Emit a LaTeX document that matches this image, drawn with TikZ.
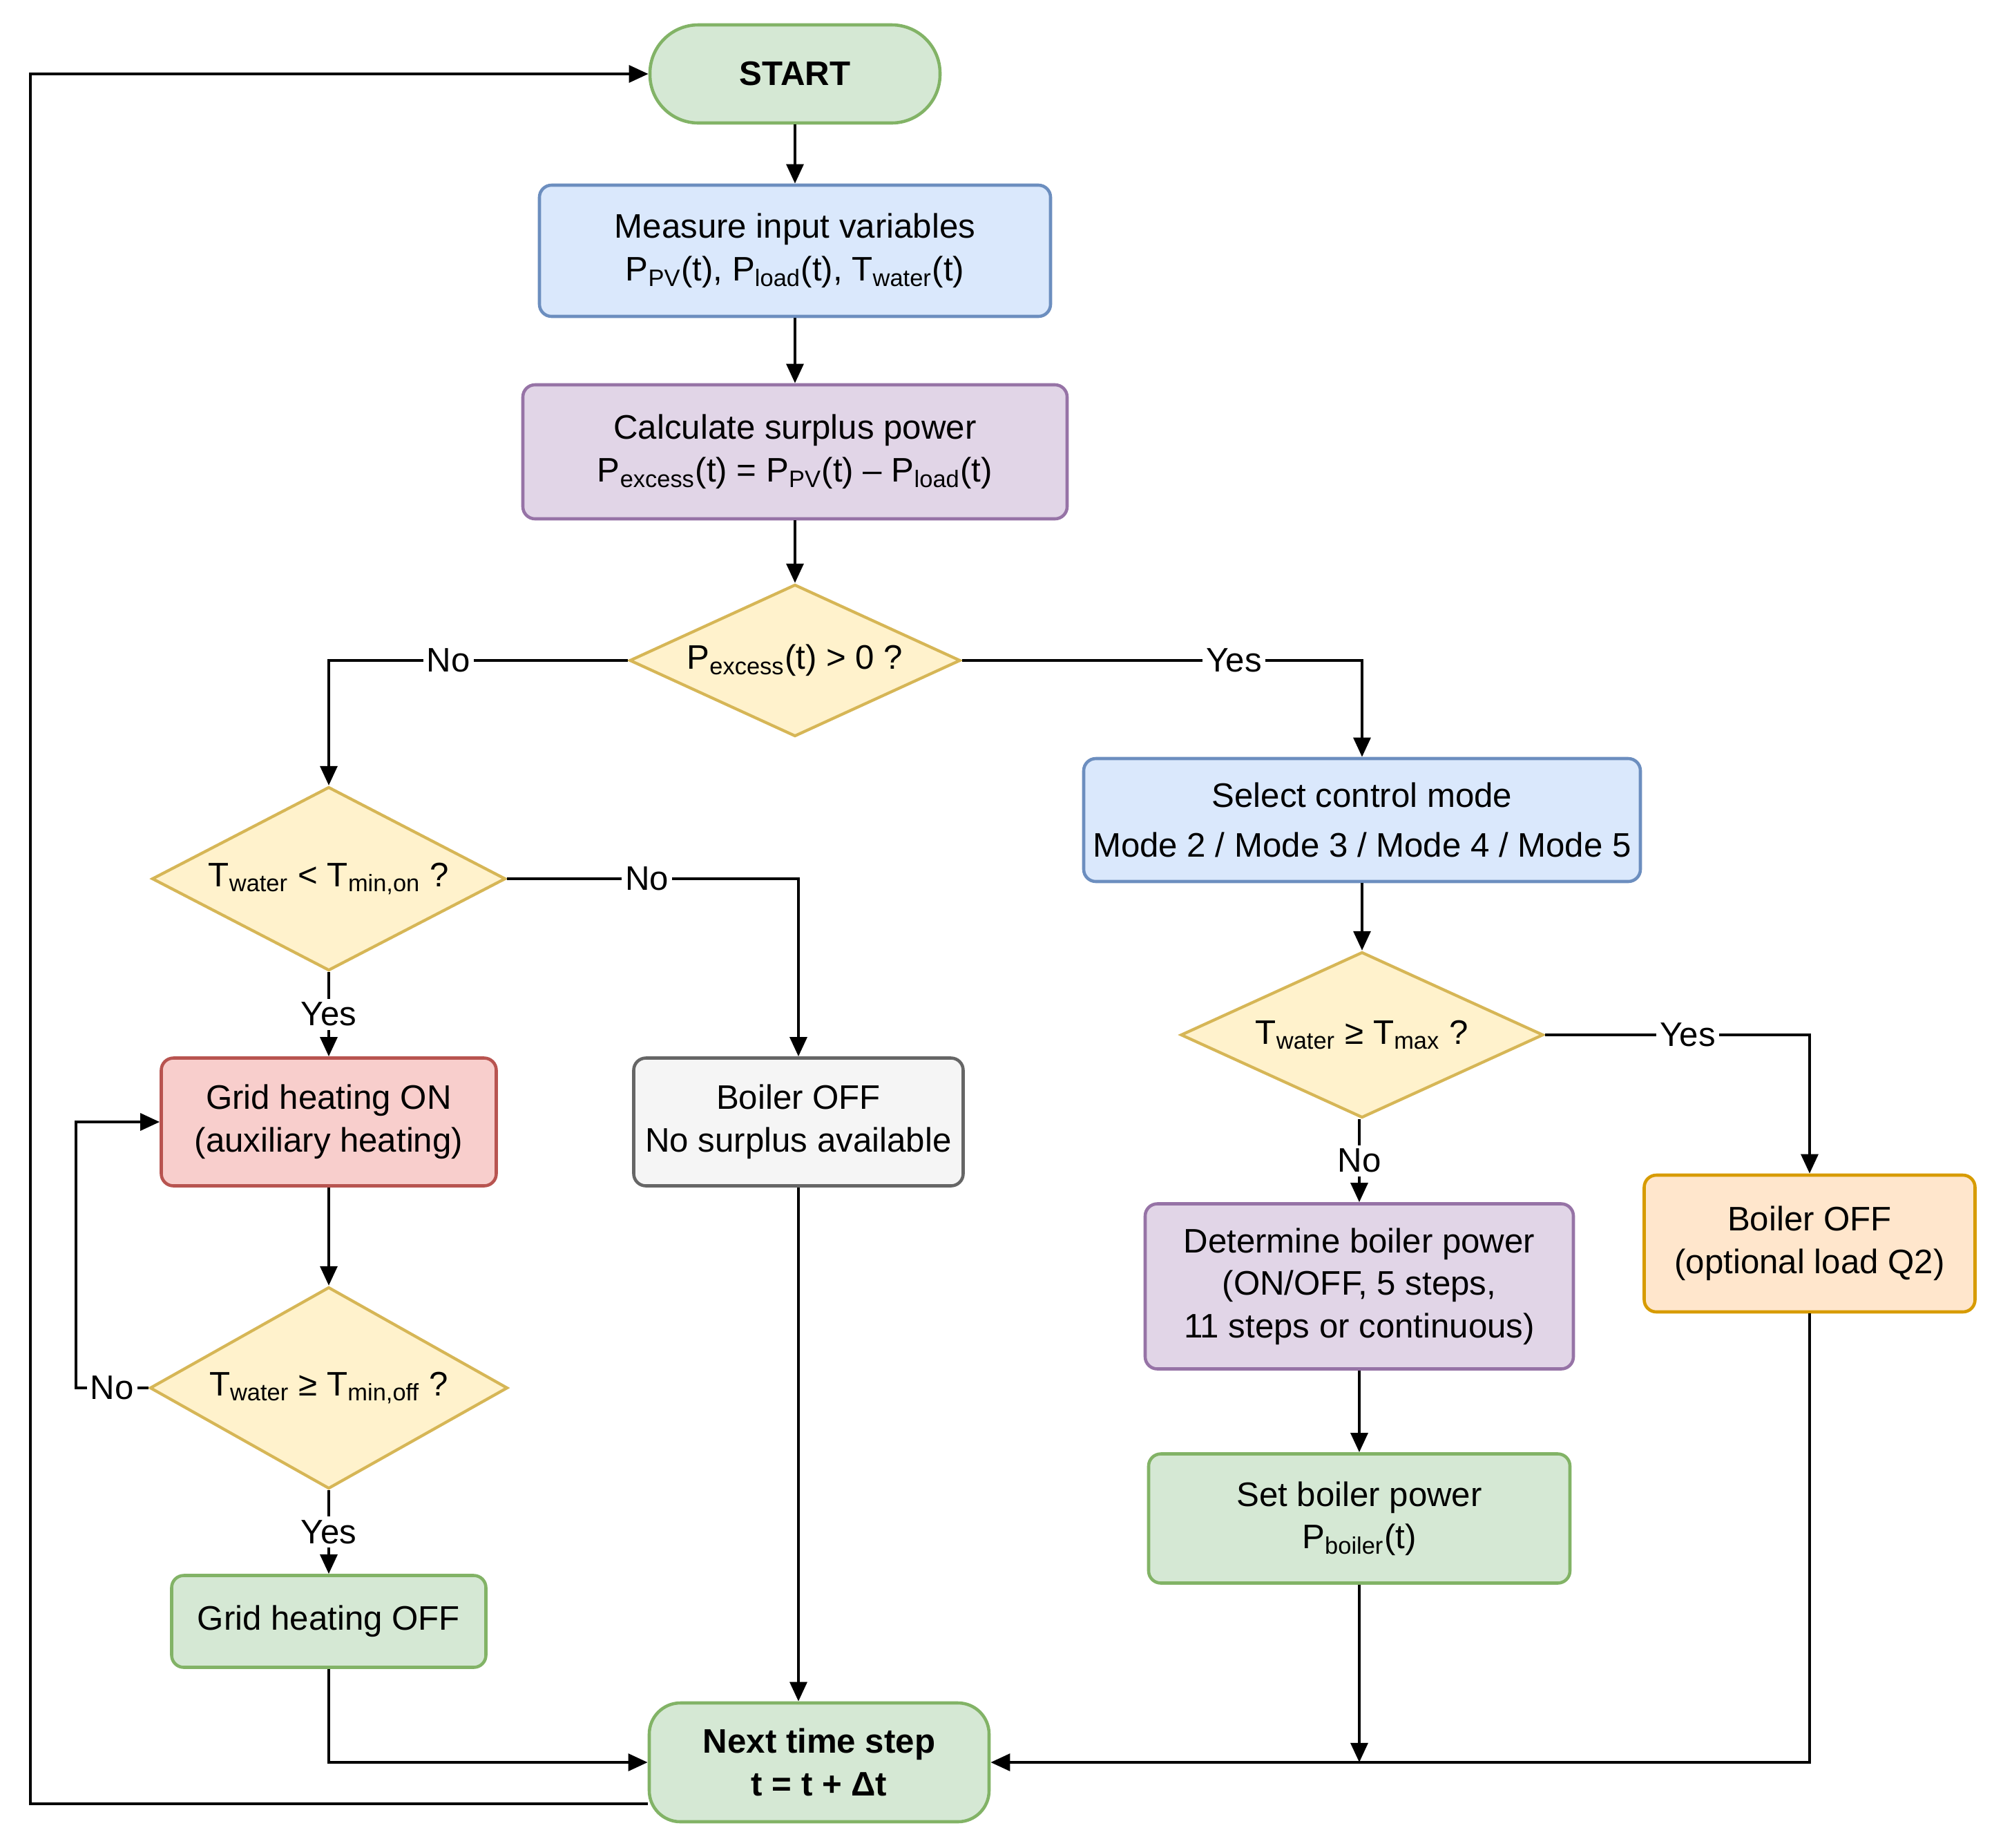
\documentclass[tikz,border=0pt]{standalone}
\usepackage{fontspec}
\setmainfont{Liberation Sans}
\usetikzlibrary{arrows.meta,positioning,shapes.geometric,calc}
\definecolor{grnfill}{HTML}{D5E8D4}\definecolor{grnline}{HTML}{82B366}
\definecolor{bluefill}{HTML}{DAE8FC}\definecolor{blueline}{HTML}{6C8EBF}
\definecolor{purpfill}{HTML}{E1D5E7}\definecolor{purpline}{HTML}{9673A6}
\definecolor{yelfill}{HTML}{FFF2CC}\definecolor{yelline}{HTML}{D6B656}
\definecolor{redfill}{HTML}{F8CECC}\definecolor{redline}{HTML}{B85450}
\definecolor{grayfill}{HTML}{F5F5F5}\definecolor{grayline}{HTML}{666666}
\definecolor{orfill}{HTML}{FFE6CC}\definecolor{orline}{HTML}{D79B00}
\tikzset{
  txt/.style={font=\fontsize{14pt}{17.5pt}\selectfont},
  box/.style={txt,rectangle,rounded corners=5pt,line width=1.3pt,align=center,inner sep=2pt},
  decision/.style={txt,diamond,aspect=2,inner sep=0pt,line width=1.2pt,align=center,draw=yelline,fill=yelfill},
  arr/.style={-{Triangle[length=8pt,width=7pt]},line width=1.3pt},
  lbl/.style={txt,fill=white,inner sep=1.5pt}
}
\begin{document}
\begin{tikzpicture}
    \useasboundingbox (0,0) rectangle (29,-26.75);
    \node[box,draw=grnline,fill=grnfill,rounded corners=0.7cm,minimum width=4.2cm,minimum height=1.42cm,font=\fontsize{14pt}{17.5pt}\selectfont\bfseries] (start) at (11.51,-1.07) {START};
    \node[box,draw=blueline,fill=bluefill,minimum width=7.4cm,minimum height=1.9cm] (meas) at (11.51,-3.63) {Measure input variables\\P\textsubscript{PV}(t), P\textsubscript{load}(t), T\textsubscript{water}(t)};
    \node[box,draw=purpline,fill=purpfill,minimum width=7.88cm,minimum height=1.94cm] (calc) at (11.51,-6.54) {Calculate surplus power\\P\textsubscript{excess}(t) = P\textsubscript{PV}(t) -- P\textsubscript{load}(t)};
    \node[decision,minimum width=4.79cm,minimum height=2.2cm] (pex) at (11.51,-9.56) {P\textsubscript{excess}(t) > 0 ?};
    \node[decision,minimum width=5.12cm,minimum height=2.66cm] (ton) at (4.76,-12.72) {T\textsubscript{water} < T\textsubscript{min,on} ?};
    \node[box,draw=blueline,fill=bluefill,minimum width=8.06cm,minimum height=1.78cm] (mode) at (19.72,-11.87) {Select control mode\\[3pt]Mode 2 / Mode 3 / Mode 4 / Mode 5};
    \node[decision,minimum width=5.25cm,minimum height=2.4cm] (tmax) at (19.72,-14.98) {T\textsubscript{water} ≥ T\textsubscript{max} ?};
    \node[box,draw=redline,fill=redfill,minimum width=4.85cm,minimum height=1.85cm] (gon) at (4.76,-16.24) {Grid heating ON\\(auxiliary heating)};
    \node[box,draw=grayline,fill=grayfill,minimum width=4.77cm,minimum height=1.85cm] (bnos) at (11.56,-16.24) {Boiler OFF\\No surplus available};
    \node[box,draw=orline,fill=orfill,minimum width=4.79cm,minimum height=1.98cm] (bopt) at (26.2,-18.0) {Boiler OFF\\(optional load Q2)};
    \node[box,draw=purpline,fill=purpfill,minimum width=6.2cm,minimum height=2.39cm] (det) at (19.68,-18.62) {Determine boiler power\\(ON/OFF, 5 steps,\\11 steps or continuous)};
    \node[decision,minimum width=5.18cm,minimum height=2.92cm] (toff) at (4.76,-20.09) {T\textsubscript{water} ≥ T\textsubscript{min,off} ?};
    \node[box,draw=grnline,fill=grnfill,minimum width=6.1cm,minimum height=1.87cm] (setp) at (19.68,-21.98) {Set boiler power\\P\textsubscript{boiler}(t)};
    \node[box,draw=grnline,fill=grnfill,minimum width=4.55cm,minimum height=1.33cm] (goff) at (4.76,-23.47) {Grid heating OFF};
    \node[box,draw=grnline,fill=grnfill,rounded corners=0.45cm,minimum width=4.92cm,minimum height=1.72cm,font=\fontsize{14pt}{17.5pt}\selectfont\bfseries] (next) at (11.86,-25.51) {Next time step\\t = t + Δt};
    \coordinate (loop) at (0.44,-13);
    \draw[arr] (start) -- (meas);
    \draw[arr] (meas) -- (calc);
    \draw[arr] (calc) -- (pex);
    \draw[arr] (pex.west) -| node[lbl,pos=0.3]{No} (ton.north);
    \draw[arr] (pex.east) -| node[lbl,pos=0.34]{Yes} (mode.north);
    \draw[arr] (mode) -- (tmax);
    \draw[arr] (ton.east) -| node[lbl,pos=0.24]{No} (bnos.north);
    \draw[arr] (ton) -- node[lbl]{Yes} (gon);
    \draw[arr] (gon) -- (toff);
    \draw[arr] (toff.west) -- node[lbl]{No} ++(-1.05,0) |- (gon.west);
    \draw[arr] (toff) -- node[lbl]{Yes} (goff);
    \draw[arr] (tmax.east) -| node[lbl,pos=0.27]{Yes} (bopt.north);
    \draw[arr] (tmax.south -| det.north) -- node[lbl]{No} (det.north);
    \draw[arr] (det) -- (setp);
    \draw[arr] (goff.south) |- (next.west);
    \draw[arr] (bnos.south) -- (bnos.south |- next.north);
    \draw[arr] (bopt.south) |- (next.east);
    \draw[arr] (setp.south) -- (setp.south |- next.east);
    \draw[arr] ([yshift=-0.6cm]next.west) -| (loop) |- (start.west);
  \end{tikzpicture}
\end{document}
